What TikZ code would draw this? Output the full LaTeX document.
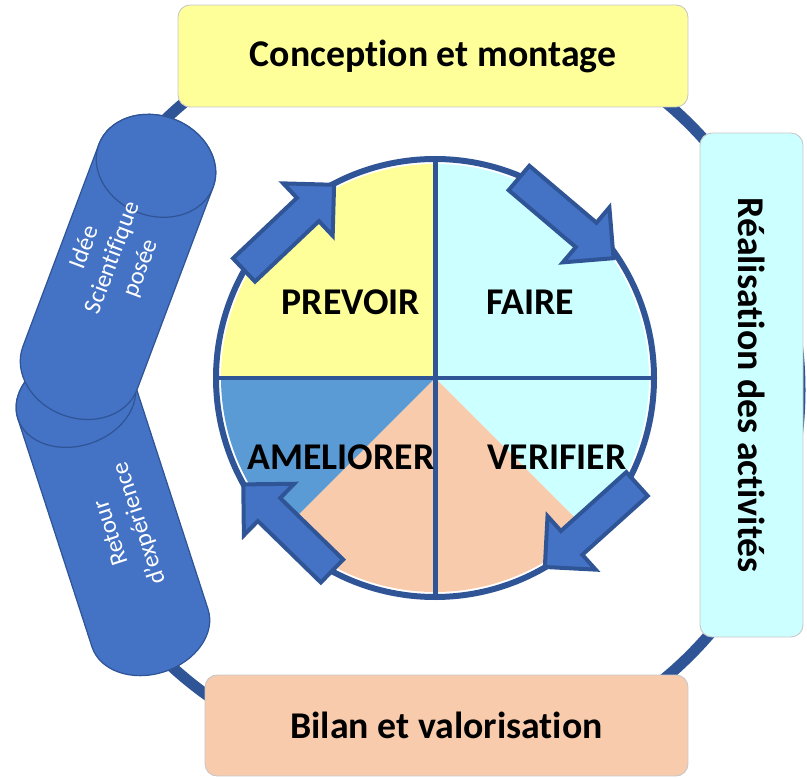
\documentclass[tikz,border=0pt]{standalone}
\usepackage{fontspec}
\setmainfont{Carlito}[Ligatures={TeX,NoCommon}]
\usetikzlibrary{positioning}

\definecolor{ringblue}{HTML}{2F5597}
\definecolor{arrowblue}{HTML}{4472C4}
\definecolor{paleyellow}{HTML}{FFFF99}
\definecolor{palecyan}{HTML}{CCFFFF}
\definecolor{palesalmon}{HTML}{F8CBAD}
\definecolor{midblue}{HTML}{5B9BD5}

\begin{document}
\begin{tikzpicture}[
  x=0.02cm, y=0.02cm,
  stagebox/.style={rectangle, draw=black!22, line width=0.5pt, rounded corners=0.24cm,
                   inner sep=0pt, text centered, font=\fontsize{21.5}{26}\selectfont\bfseries},
  ring/.style={ringblue, line width=0.22cm},
  quadlabel/.style={font=\fontsize{21.5}{26}\selectfont\bfseries},
  cyl/.style={fill=arrowblue, draw=ringblue, line width=0.7pt},
  cyltext/.style={text=white, align=center, inner sep=1pt, font=\fontsize{14}{17}\selectfont},
  blockarr/.style={fill=arrowblue, draw=ringblue, line width=0.08cm, line join=miter},
  cyclearrow/.pic={
    \draw[blockarr] (0,-16) -- (88,-16) -- (88,-36) -- (124,0)
                    -- (88,36) -- (88,16) -- (0,16) -- cycle;
  }
]
\useasboundingbox (0,0) rectangle (807,778);

% Outer loop behind the stages
\coordinate (loopc) at (425,388);
\draw[ring] (loopc) circle (375);

% Stage boxes
\node[stagebox, fill=paleyellow, minimum width=10.2cm, minimum height=2.04cm]
  (concept) at (433,722) {Conception et montage};
\node[stagebox, fill=palecyan, rotate=-90, minimum width=10.08cm, minimum height=2.06cm]
  (realis) at (751.5,393) {Réalisation des activités};
\node[stagebox, fill=palesalmon, minimum width=9.66cm, minimum height=2.02cm]
  (bilan) at (446.5,52.5) {Bilan et valorisation};

% Cylinder: Retour d'experience (drawn first, lies below)
\begin{scope}[shift={(150,150)}, rotate=108]
  \draw[cyl] (0,61) -- (240,61) arc[start angle=90, end angle=-90, x radius=46, y radius=61]
             -- (0,-61) arc[start angle=-90, end angle=-270, x radius=46, y radius=61] -- cycle;
  \draw[cyl] (240,0) ellipse [x radius=46, y radius=61];
\end{scope}
\node[cyltext, rotate=108] (retour) at (126,250) {Retour\\d'expérience};

% Cylinder: Idee scientifique posee
\begin{scope}[shift={(80,410)}, rotate=69.4]
  \draw[cyl] (0,61) -- (216,61) arc[start angle=90, end angle=-90, x radius=50, y radius=61]
             -- (0,-61) arc[start angle=-90, end angle=-270, x radius=50, y radius=61] -- cycle;
  \draw[cyl] (216,0) ellipse [x radius=50, y radius=61];
\end{scope}
\node[cyltext, rotate=69.4] (idee) at (113,520) {Idée\\Scientifique\\posée};

% Inner cycle
\coordinate (hub) at (435,400);
\fill[paleyellow] (hub) -- ++(90:214) arc[start angle=90, end angle=180, radius=214] -- cycle;
\fill[palecyan] (hub) -- ++(0:214) arc[start angle=0, end angle=90, radius=214] -- cycle;
\fill[palecyan] (hub) -- ++(-45:214) arc[start angle=-45, end angle=0, radius=214] -- cycle;
\fill[palesalmon] (hub) -- ++(-90:214) arc[start angle=-90, end angle=-45, radius=214] -- cycle;
\fill[palesalmon] (hub) -- ++(225:214) arc[start angle=225, end angle=270, radius=214] -- cycle;
\fill[midblue] (hub) -- ++(180:214) arc[start angle=180, end angle=225, radius=214] -- cycle;
\draw[ringblue, line width=0.1cm] ([yshift=-219*0.02cm]hub) -- ([yshift=219*0.02cm]hub);
\draw[ringblue, line width=0.1cm] ([xshift=-219*0.02cm]hub) -- ([xshift=219*0.02cm]hub);
\draw[ringblue, line width=0.12cm] (hub) circle (219);

% Quadrant labels
\node[quadlabel] (prevoir)   at (351,476) {PREVOIR};
\node[quadlabel] (faire)     at (530,476) {FAIRE};
\node[quadlabel] (ameliorer) at (341,321) {AMELIORER};
\node[quadlabel] (verifier)  at (557,321) {VERIFIER};

% Block arrows round the cycle
\pic[rotate=43.4]  at (244,508) {cyclearrow};
\pic[rotate=-40.3] at (519,600) {cyclearrow};
\pic[rotate=222]   at (637,294) {cyclearrow};
\pic[rotate=135.7] at (332,207) {cyclearrow};

\end{tikzpicture}
\end{document}
